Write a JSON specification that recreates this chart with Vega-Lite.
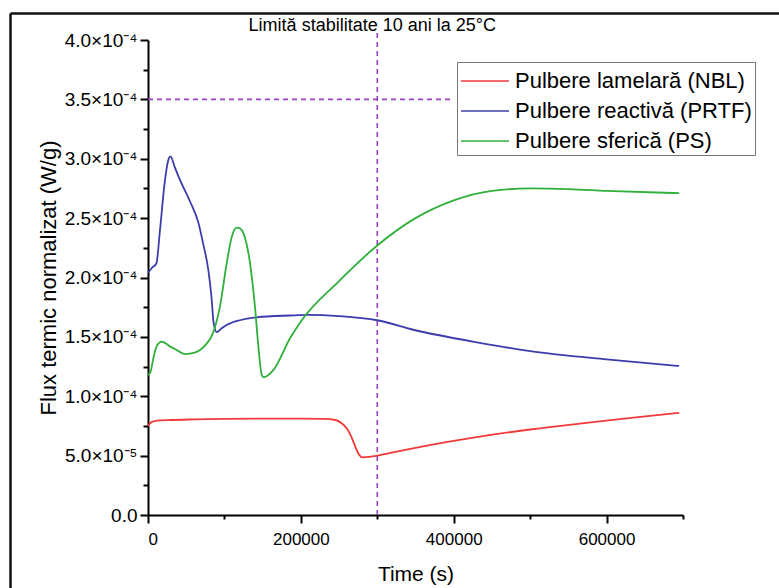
{
  "$schema": "https://vega.github.io/schema/vega-lite/v6.json",
  "width": 769,
  "height": 575,
  "autosize": {"type": "none"},
  "padding": {"left": 10, "top": 13, "right": 0, "bottom": 0},
  "background": "white",
  "config": {
    "font": "Liberation Sans",
    "view": {"stroke": null},
    "axis": {
      "grid": false,
      "domainColor": "black",
      "domainWidth": 2,
      "tickColor": "black",
      "tickWidth": 2,
      "labelColor": "black",
      "labelFont": "Liberation Sans",
      "titleFont": "Liberation Sans",
      "titleColor": "black",
      "titleFontWeight": "normal"
    }
  },
  "datasets": {
    "curves": [
      {"s": "Pulbere lamelară (NBL)", "t": 0, "v": 7.5e-5},
      {"s": "Pulbere lamelară (NBL)", "t": 4000, "v": 7.8e-5},
      {"s": "Pulbere lamelară (NBL)", "t": 12000, "v": 7.95e-5},
      {"s": "Pulbere lamelară (NBL)", "t": 30000, "v": 8.0e-5},
      {"s": "Pulbere lamelară (NBL)", "t": 60000, "v": 8.05e-5},
      {"s": "Pulbere lamelară (NBL)", "t": 100000, "v": 8.1e-5},
      {"s": "Pulbere lamelară (NBL)", "t": 150000, "v": 8.12e-5},
      {"s": "Pulbere lamelară (NBL)", "t": 200000, "v": 8.12e-5},
      {"s": "Pulbere lamelară (NBL)", "t": 230000, "v": 8.1e-5},
      {"s": "Pulbere lamelară (NBL)", "t": 245000, "v": 8.0e-5},
      {"s": "Pulbere lamelară (NBL)", "t": 253000, "v": 7.75e-5},
      {"s": "Pulbere lamelară (NBL)", "t": 260000, "v": 7.3e-5},
      {"s": "Pulbere lamelară (NBL)", "t": 266000, "v": 6.6e-5},
      {"s": "Pulbere lamelară (NBL)", "t": 271000, "v": 5.8e-5},
      {"s": "Pulbere lamelară (NBL)", "t": 276000, "v": 5.1e-5},
      {"s": "Pulbere lamelară (NBL)", "t": 281000, "v": 4.85e-5},
      {"s": "Pulbere lamelară (NBL)", "t": 290000, "v": 4.9e-5},
      {"s": "Pulbere lamelară (NBL)", "t": 300000, "v": 5.0e-5},
      {"s": "Pulbere lamelară (NBL)", "t": 330000, "v": 5.4e-5},
      {"s": "Pulbere lamelară (NBL)", "t": 370000, "v": 5.9e-5},
      {"s": "Pulbere lamelară (NBL)", "t": 434000, "v": 6.6e-5},
      {"s": "Pulbere lamelară (NBL)", "t": 500000, "v": 7.2e-5},
      {"s": "Pulbere lamelară (NBL)", "t": 565000, "v": 7.7e-5},
      {"s": "Pulbere lamelară (NBL)", "t": 620000, "v": 8.1e-5},
      {"s": "Pulbere lamelară (NBL)", "t": 695000, "v": 8.6e-5},

      {"s": "Pulbere reactivă (PRTF)", "t": 0, "v": 2.04e-4},
      {"s": "Pulbere reactivă (PRTF)", "t": 5000, "v": 2.08e-4},
      {"s": "Pulbere reactivă (PRTF)", "t": 11000, "v": 2.12e-4},
      {"s": "Pulbere reactivă (PRTF)", "t": 15700, "v": 2.4e-4},
      {"s": "Pulbere reactivă (PRTF)", "t": 22200, "v": 2.82e-4},
      {"s": "Pulbere reactivă (PRTF)", "t": 26600, "v": 2.99e-4},
      {"s": "Pulbere reactivă (PRTF)", "t": 29500, "v": 3.02e-4},
      {"s": "Pulbere reactivă (PRTF)", "t": 35000, "v": 2.93e-4},
      {"s": "Pulbere reactivă (PRTF)", "t": 42000, "v": 2.82e-4},
      {"s": "Pulbere reactivă (PRTF)", "t": 55000, "v": 2.64e-4},
      {"s": "Pulbere reactivă (PRTF)", "t": 66000, "v": 2.46e-4},
      {"s": "Pulbere reactivă (PRTF)", "t": 72000, "v": 2.29e-4},
      {"s": "Pulbere reactivă (PRTF)", "t": 79000, "v": 2.06e-4},
      {"s": "Pulbere reactivă (PRTF)", "t": 83000, "v": 1.84e-4},
      {"s": "Pulbere reactivă (PRTF)", "t": 86000, "v": 1.61e-4},
      {"s": "Pulbere reactivă (PRTF)", "t": 90000, "v": 1.54e-4},
      {"s": "Pulbere reactivă (PRTF)", "t": 96000, "v": 1.57e-4},
      {"s": "Pulbere reactivă (PRTF)", "t": 103000, "v": 1.6e-4},
      {"s": "Pulbere reactivă (PRTF)", "t": 120000, "v": 1.64e-4},
      {"s": "Pulbere reactivă (PRTF)", "t": 142000, "v": 1.665e-4},
      {"s": "Pulbere reactivă (PRTF)", "t": 186000, "v": 1.68e-4},
      {"s": "Pulbere reactivă (PRTF)", "t": 210000, "v": 1.685e-4},
      {"s": "Pulbere reactivă (PRTF)", "t": 250000, "v": 1.675e-4},
      {"s": "Pulbere reactivă (PRTF)", "t": 300000, "v": 1.64e-4},
      {"s": "Pulbere reactivă (PRTF)", "t": 347000, "v": 1.56e-4},
      {"s": "Pulbere reactivă (PRTF)", "t": 434000, "v": 1.45e-4},
      {"s": "Pulbere reactivă (PRTF)", "t": 500000, "v": 1.38e-4},
      {"s": "Pulbere reactivă (PRTF)", "t": 600000, "v": 1.31e-4},
      {"s": "Pulbere reactivă (PRTF)", "t": 695000, "v": 1.255e-4},

      {"s": "Pulbere sferică (PS)", "t": 0, "v": 1.18e-4},
      {"s": "Pulbere sferică (PS)", "t": 3000, "v": 1.2e-4},
      {"s": "Pulbere sferică (PS)", "t": 8000, "v": 1.35e-4},
      {"s": "Pulbere sferică (PS)", "t": 12000, "v": 1.43e-4},
      {"s": "Pulbere sferică (PS)", "t": 18000, "v": 1.46e-4},
      {"s": "Pulbere sferică (PS)", "t": 29000, "v": 1.42e-4},
      {"s": "Pulbere sferică (PS)", "t": 40000, "v": 1.38e-4},
      {"s": "Pulbere sferică (PS)", "t": 48000, "v": 1.355e-4},
      {"s": "Pulbere sferică (PS)", "t": 62000, "v": 1.37e-4},
      {"s": "Pulbere sferică (PS)", "t": 75000, "v": 1.43e-4},
      {"s": "Pulbere sferică (PS)", "t": 85500, "v": 1.54e-4},
      {"s": "Pulbere sferică (PS)", "t": 94000, "v": 1.75e-4},
      {"s": "Pulbere sferică (PS)", "t": 103000, "v": 2.12e-4},
      {"s": "Pulbere sferică (PS)", "t": 109500, "v": 2.34e-4},
      {"s": "Pulbere sferică (PS)", "t": 116000, "v": 2.42e-4},
      {"s": "Pulbere sferică (PS)", "t": 121000, "v": 2.41e-4},
      {"s": "Pulbere sferică (PS)", "t": 125000, "v": 2.37e-4},
      {"s": "Pulbere sferică (PS)", "t": 133500, "v": 2.12e-4},
      {"s": "Pulbere sferică (PS)", "t": 140000, "v": 1.75e-4},
      {"s": "Pulbere sferică (PS)", "t": 144400, "v": 1.42e-4},
      {"s": "Pulbere sferică (PS)", "t": 148800, "v": 1.18e-4},
      {"s": "Pulbere sferică (PS)", "t": 151000, "v": 1.16e-4},
      {"s": "Pulbere sferică (PS)", "t": 164000, "v": 1.22e-4},
      {"s": "Pulbere sferică (PS)", "t": 186000, "v": 1.49e-4},
      {"s": "Pulbere sferică (PS)", "t": 200000, "v": 1.63e-4},
      {"s": "Pulbere sferică (PS)", "t": 250000, "v": 1.97e-4},
      {"s": "Pulbere sferică (PS)", "t": 300000, "v": 2.27e-4},
      {"s": "Pulbere sferică (PS)", "t": 350000, "v": 2.5e-4},
      {"s": "Pulbere sferică (PS)", "t": 400000, "v": 2.65e-4},
      {"s": "Pulbere sferică (PS)", "t": 450000, "v": 2.73e-4},
      {"s": "Pulbere sferică (PS)", "t": 500000, "v": 2.75e-4},
      {"s": "Pulbere sferică (PS)", "t": 550000, "v": 2.745e-4},
      {"s": "Pulbere sferică (PS)", "t": 600000, "v": 2.73e-4},
      {"s": "Pulbere sferică (PS)", "t": 695000, "v": 2.71e-4}
    ]
  },
  "resolve": {"scale": {"x": "independent", "y": "independent"}, "axis": {"x": "independent", "y": "independent"}},
  "layer": [
    {
      "data": {"values": [{"a": 1}]},
      "mark": {"type": "rule", "opacity": 0},
      "encoding": {
        "x": {"datum": 0, "type": "quantitative", "scale": {"domain": [0, 1], "nice": false},
          "axis": {"orient": "top", "ticks": false, "labels": false, "title": null, "domainWidth": 2.5, "domainColor": "#111111"}},
        "y": {"datum": 0, "type": "quantitative", "scale": {"domain": [0, 1], "nice": false},
          "axis": {"orient": "left", "ticks": false, "labels": false, "title": null, "domainWidth": 2.5, "domainColor": "#111111"}}
      }
    },
    {
      "data": {"values": [{"a": 1}]},
      "mark": {"type": "rule", "color": "#9b3fc4", "strokeWidth": 1.6, "strokeDash": [5, 4]},
      "encoding": {
        "x": {"datum": 300000, "type": "quantitative", "scale": {"domain": [0, 700000], "range": [138, 673], "nice": false},
          "axis": {"orient": "bottom", "offset": -73, "values": [100000, 300000, 500000, 700000], "labels": false, "domain": false, "tickSize": 4, "title": null}},
        "y": {"datum": 0, "type": "quantitative", "scale": {"domain": [0, 0.0004], "range": [502, 27], "nice": false},
          "axis": {"orient": "left", "offset": -138, "values": [0.000025, 0.000075, 0.000125, 0.000175, 0.000225, 0.000275, 0.000325, 0.000375], "labels": false, "domain": false, "tickSize": 5, "title": null}},
        "y2": {"datum": 0.000408}
      }
    },
    {
      "data": {"values": [{"a": 1}]},
      "mark": {"type": "rule", "color": "#9b3fc4", "strokeWidth": 1.6, "strokeDash": [5, 4]},
      "encoding": {
        "x": {"datum": 0, "type": "quantitative", "scale": {"domain": [0, 700000], "range": [138, 673], "nice": false}, "axis": null},
        "x2": {"datum": 400000},
        "y": {"datum": 0.00035, "type": "quantitative", "scale": {"domain": [0, 0.0004], "range": [502, 27], "nice": false}, "axis": null}
      }
    },
    {
      "data": {"values": [{"label": "Limită stabilitate 10 ani la 25°C"}]},
      "mark": {"type": "text", "fontSize": 18, "color": "black", "baseline": "middle", "align": "center", "dx": -5, "dy": -14, "font": "Liberation Sans"},
      "encoding": {
        "x": {"datum": 300000, "type": "quantitative", "scale": {"domain": [0, 700000], "range": [138, 673], "nice": false}, "axis": null},
        "y": {"datum": 0.0004, "type": "quantitative", "scale": {"domain": [0, 0.0004], "range": [502, 27], "nice": false}, "axis": null},
        "text": {"field": "label"}
      }
    },
    {
      "data": {"name": "curves"},
      "mark": {"type": "line", "strokeWidth": 1.8, "interpolate": "monotone"},
      "encoding": {
        "x": {"field": "t", "type": "quantitative", "scale": {"domain": [0, 700000], "range": [138, 673], "nice": false},
          "axis": {"orient": "bottom", "offset": -73, "values": [0, 200000, 400000, 600000], "format": "d", "tickSize": 8, "labelFontSize": 17, "labelPadding": 8, "title": "Time (s)", "titleFontSize": 21, "titlePadding": 16}},
        "y": {"field": "v", "type": "quantitative", "scale": {"domain": [0, 0.0004], "range": [502, 27], "nice": false},
          "axis": {"orient": "left", "offset": -138, "values": [0, 0.00005, 0.0001, 0.00015, 0.0002, 0.00025, 0.0003, 0.00035, 0.0004], "tickSize": 8, "labelFontSize": 19, "labelPadding": 3,
            "labelExpr": "datum.value == 0 ? '0.0' : (datum.value < 0.0000999 ? format(datum.value * 100000, '.1f') + '×10⁻⁵' : format(datum.value * 10000, '.1f') + '×10⁻⁴')",
            "title": "Flux termic normalizat (W/g)", "titleFontSize": 22, "titlePadding": 4}},
        "color": {"field": "s", "type": "nominal",
          "scale": {"domain": ["Pulbere lamelară (NBL)", "Pulbere reactivă (PRTF)", "Pulbere sferică (PS)"], "range": ["#f23a3a", "#3c3cae", "#2fb03a"]},
          "legend": {"orient": "none", "legendX": 447, "legendY": 49, "title": null, "symbolType": "M-1.6,0H1.6", "symbolSize": 900, "symbolOffset": 9, "symbolStrokeWidth": 1.6,
            "labelFontSize": 22, "labelColor": "black", "labelOffset": 14, "rowPadding": 3, "padding": 3, "strokeColor": "#777777", "fillColor": "white", "labelLimit": 400}}
      }
    }
  ]
}
